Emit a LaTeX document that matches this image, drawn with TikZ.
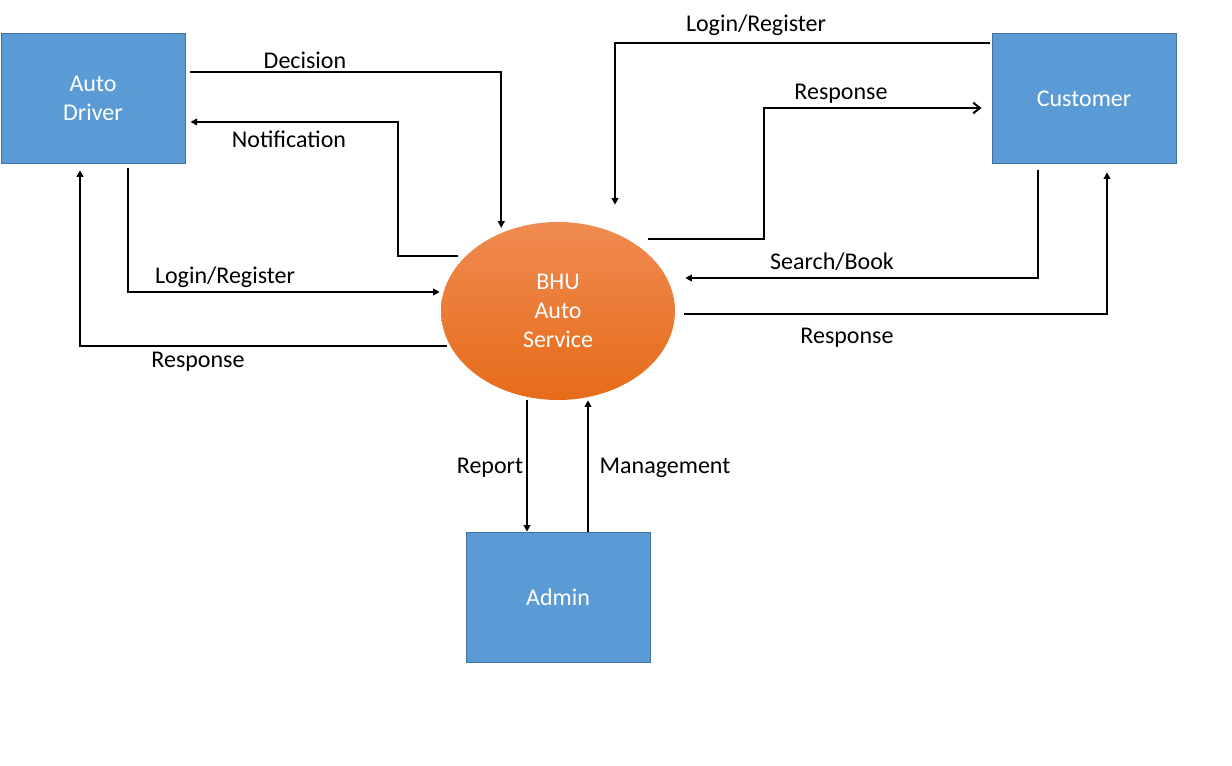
\documentclass[tikz,border=0pt]{standalone}
\usepackage{fontspec}
\setmainfont{Carlito}
\usetikzlibrary{positioning,shapes,arrows.meta,calc}
\definecolor{entfill}{HTML}{5B9BD5}
\definecolor{entline}{HTML}{41719C}
\definecolor{ellTop}{HTML}{F08B51}
\definecolor{ellMid}{HTML}{F37D2C}
\definecolor{ellBot}{HTML}{E66B19}

\begin{document}
\begin{tikzpicture}[x=0.75pt, y=-0.75pt,
    ent/.style={draw=entline, fill=entfill, line width=0.75pt, minimum width=138pt,
                minimum height=98pt, text=white, align=center,
                font=\fontsize{18}{21.75}\selectfont},
    proc/.style={ellipse, top color=ellTop, middle color=ellMid, bottom color=ellBot,
                 minimum width=175.5pt, minimum height=133.5pt, inner sep=0pt,
                 text=white, align=center, font=\fontsize{18}{21.75}\selectfont},
    lbl/.style={font=\fontsize{18}{21.75}\selectfont},
    arr/.style={line width=1.5pt, -{Triangle[length=5pt,width=5pt]}}]
      \useasboundingbox (0,0) rectangle (1232,766);
      \node[ent] (drv) at (93,98.5) {Auto\\Driver};
      \node[ent] (cus) at (1084,98.5) {Customer};
      \node[ent] (adm) at (558,597.5) {Admin};
      \node[proc] (svc) at (558,311) {BHU\\Auto\\Service};
      % driver side
      \draw[arr] ($(drv.east|-0,72)+(4,0)$) -| ($(svc.126)+(0,-5)$);
      \draw[arr] ($(svc.west|-0,256)+(17,0)$) -- ++(-60,0) |- ($(drv.east|-0,122)+(5,0)$);
      \draw[arr] ($(drv.south)+(35,4)$) |- ($(svc.west|-0,292)+(-1,0)$);
      \draw[arr] ($(svc.west|-0,346)+(6,0)$) -| ($(drv.south)+(-13,6)$);
      % customer side
      \draw[arr] ($(cus.west|-0,43)+(-2,0)$) -| ($(svc.north)+(57,-17)$);
      \draw[line width=1.5pt, -{Straight Barb[length=5pt,width=8pt]}] ($(svc.center)+(90,-72)$) -- ++(116,0) |- ($(cus.west|-0,108)+(-10,0)$);
      \draw[arr] ($(cus.south)+(-46,6)$) |- ($(svc.east|-0,278)+(10,0)$);
      \draw[arr] ($(svc.east|-0,314)+(9,0)$) -| ($(cus.south)+(23,8)$);
      % admin
      \draw[arr] ($(svc.south)+(-31,0)$) -- ($(adm.north)+(-31,0)$);
      \draw[arr] ($(adm.north)+(30,0)$) -- ($(svc.south)+(30,0)$);
      \node[lbl] (ldec) at (305,60) {Decision};
      \node[lbl] (lnot) at (289,139) {Notification};
      \node[lbl] (ldlog) at (225,277) {Login/Register};
      \node[lbl] (ldres) at (198,362) {Response};
      \node[lbl] (lclog) at (756,25) {Login/Register};
      \node[lbl] (lcres) at (841,94) {Response};
      \node[lbl] (lsrch) at (832,262) {Search/Book};
      \node[lbl] (lcres2) at (847,338) {Response};
      \node[lbl] (lrep) at (490,468) {Report};
      \node[lbl] (lman) at (665,468) {Management};
\end{tikzpicture}
\end{document}
